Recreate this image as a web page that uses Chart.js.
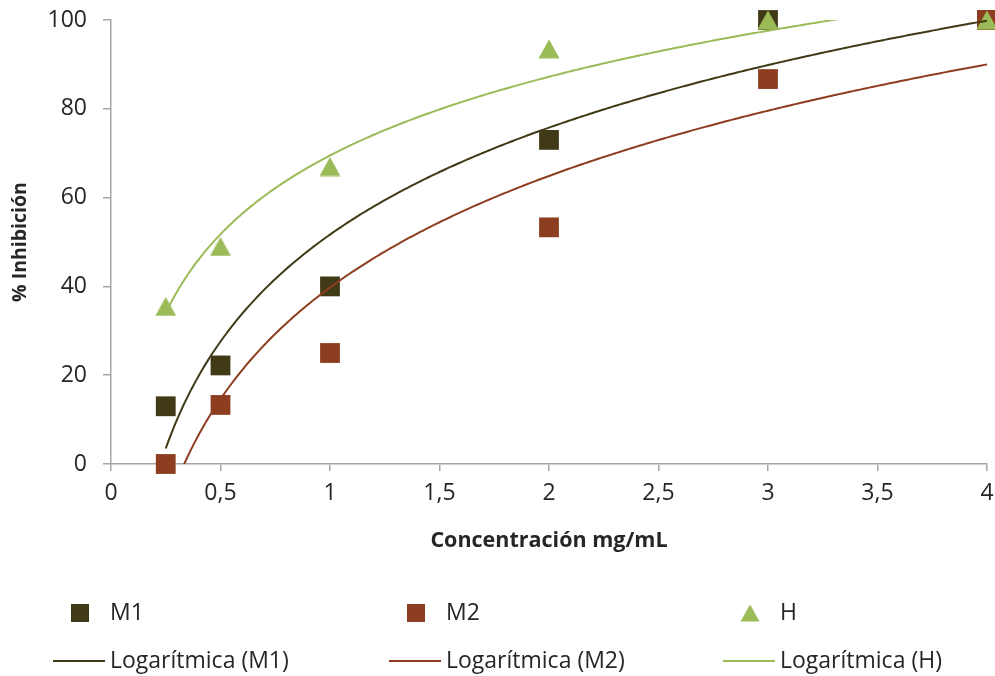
<!DOCTYPE html>
<html>
<head>
<meta charset="utf-8">
<script src="https://cdn.jsdelivr.net/npm/chart.js@4"></script>
<style>
  html, body { margin: 0; padding: 0; background: #fff; }
</style>
</head>
<body>
<canvas id="myChart" width="995" height="676"></canvas>
<script>
// concentration (mg/mL) and % inhibition
const concentrations = [0.25, 0.5, 1, 2, 3, 4];
const m1Values = [13, 22.2, 40, 73, 100, 100];
const m2Values = [0, 13.3, 25, 53.3, 86.7, 100];
const hValues = [35.5, 49, 67, 93.5, 100, 100];

const xTickLabels = ['0', '0,5', '1', '1,5', '2', '2,5', '3', '3,5', '4'];
const yTickLabels = ['0', '20', '40', '60', '80', '100'];

const colorM1 = '#403A16';
const colorM2 = '#8E3E20';
const colorH = '#9BBB59';
const fontFamily = '"Open Sans", "Liberation Sans", sans-serif';

function toPoints(xs, ys) {
    return xs.map((x, i) => ({ x: x, y: ys[i] }));
}

// least squares fit y = a + b*ln(x), same as Excel's logarithmic trendline
function logFit(xs, ys) {
    const lx = xs.map(Math.log);
    const n = xs.length;
    const mx = lx.reduce((s, v) => s + v, 0) / n;
    const my = ys.reduce((s, v) => s + v, 0) / n;
    let sxy = 0, sxx = 0;
    for (let i = 0; i < n; i++) {
        sxy += (lx[i] - mx) * (ys[i] - my);
        sxx += (lx[i] - mx) * (lx[i] - mx);
    }
    const b = sxy / sxx;
    return { a: my - b * mx, b: b };
}

function trendPoints(xs, ys) {
    const fit = logFit(xs, ys);
    const x0 = xs[0], x1 = xs[xs.length - 1];
    const pts = [];
    const steps = 300;
    for (let i = 0; i <= steps; i++) {
        const x = x0 + (x1 - x0) * i / steps;
        pts.push({ x: x, y: fit.a + fit.b * Math.log(x) });
    }
    return pts;
}

// triangle marker centred on its bounding box, like Excel's
function triangleMarker(color) {
    const c = document.createElement('canvas');
    c.width = 22;
    c.height = 20;
    const g = c.getContext('2d');
    g.fillStyle = color;
    g.beginPath();
    g.moveTo(11, 0.5);
    g.lineTo(21.5, 19.5);
    g.lineTo(0.5, 19.5);
    g.closePath();
    g.fill();
    return c;
}
const hMarker = triangleMarker(colorH);

// legend drawn as a 3 x 2 grid under the plot
const gridLegend = {
    id: 'gridLegend',
    afterDraw(chart) {
        const ctx = chart.ctx;
        const colX = [53, 389, 723];
        const rowY = [613, 661];
        ctx.save();
        ctx.font = '23px ' + fontFamily;
        ctx.textBaseline = 'middle';
        chart.data.datasets.forEach((ds, i) => {
            const col = i % 3, row = Math.floor(i / 3);
            const x = colX[col], y = rowY[row];
            if (row === 0) {
                if (ds.pointStyle === 'rect') {
                    ctx.fillStyle = ds.backgroundColor;
                    ctx.fillRect(x + 18, y - 9, 18, 18);
                } else {
                    ctx.drawImage(ds.pointStyle, x + 17, y - 9, 20, 18);
                }
            } else {
                ctx.beginPath();
                ctx.moveTo(x, y);
                ctx.lineTo(x + 52, y);
                ctx.strokeStyle = ds.borderColor;
                ctx.lineWidth = 2;
                ctx.stroke();
            }
            ctx.fillStyle = '#262626';
            ctx.fillText(ds.label, x + 57, y);
        });
        ctx.restore();
    }
};

const ctx = document.getElementById('myChart').getContext('2d');
const myChart = new Chart(ctx, {
    type: 'scatter',
    data: {
        datasets: [
            { label: 'M1', data: toPoints(concentrations, m1Values), pointStyle: 'rect', pointRadius: 14,
              backgroundColor: colorM1, borderColor: colorM1, borderWidth: 0, clip: false, order: 3 },
            { label: 'M2', data: toPoints(concentrations, m2Values), pointStyle: 'rect', pointRadius: 14,
              backgroundColor: colorM2, borderColor: colorM2, borderWidth: 0, clip: false, order: 2 },
            { label: 'H', data: toPoints(concentrations, hValues), pointStyle: hMarker, pointRadius: 11,
              backgroundColor: colorH, borderColor: colorH, borderWidth: 0, clip: false, order: 1 },
            { label: 'Logarítmica (M1)', data: trendPoints(concentrations, m1Values), showLine: true,
              pointRadius: 0, borderColor: colorM1, backgroundColor: colorM1, borderWidth: 2, clip: 0, order: 0 },
            { label: 'Logarítmica (M2)', data: trendPoints(concentrations, m2Values), showLine: true,
              pointRadius: 0, borderColor: colorM2, backgroundColor: colorM2, borderWidth: 2, clip: 0, order: 0 },
            { label: 'Logarítmica (H)', data: trendPoints(concentrations, hValues), showLine: true,
              pointRadius: 0, borderColor: colorH, backgroundColor: colorH, borderWidth: 2, clip: 0, order: 0 }
        ]
    },
    options: {
        responsive: false,
        animation: false,
        events: [],
        layout: { autoPadding: false, padding: { top: 20, right: 8, bottom: 112, left: 0 } },
        plugins: {
            legend: { display: false },
            tooltip: { enabled: false }
        },
        scales: {
            x: {
                type: 'linear',
                min: 0,
                max: 4,
                afterFit(scale) {
                    scale.height = 100;
                    scale.paddingLeft = 0;
                    scale.paddingRight = 0;
                },
                ticks: {
                    stepSize: 0.5,
                    padding: 9,
                    color: '#262626',
                    font: { family: fontFamily, size: 23 },
                    callback: (v, i) => xTickLabels[i]
                },
                grid: { drawOnChartArea: false, tickLength: 7, color: '#A6A6A6', lineWidth: 1.5 },
                border: { color: '#A6A6A6', width: 1.5 },
                title: {
                    display: true,
                    text: 'Concentración mg/mL',
                    color: '#262626',
                    font: { family: fontFamily, size: 21.5, weight: 'bold' },
                    padding: { top: 0, bottom: 10 }
                }
            },
            y: {
                type: 'linear',
                min: 0,
                max: 100,
                afterFit(scale) {
                    scale.width = 111;
                    scale.paddingTop = 0;
                    scale.paddingBottom = 0;
                },
                ticks: {
                    stepSize: 20,
                    padding: 16,
                    color: '#262626',
                    font: { family: fontFamily, size: 23 },
                    callback: (v, i) => yTickLabels[i]
                },
                grid: { drawOnChartArea: false, tickLength: 8, color: '#A6A6A6', lineWidth: 1.5 },
                border: { color: '#A6A6A6', width: 1.5 },
                title: {
                    display: true,
                    text: '% Inhibición',
                    color: '#262626',
                    font: { family: fontFamily, size: 19.5, weight: 'bold' },
                    padding: { top: 9, bottom: 0 }
                }
            }
        }
    },
    plugins: [gridLegend]
});
</script>
</body>
</html>
